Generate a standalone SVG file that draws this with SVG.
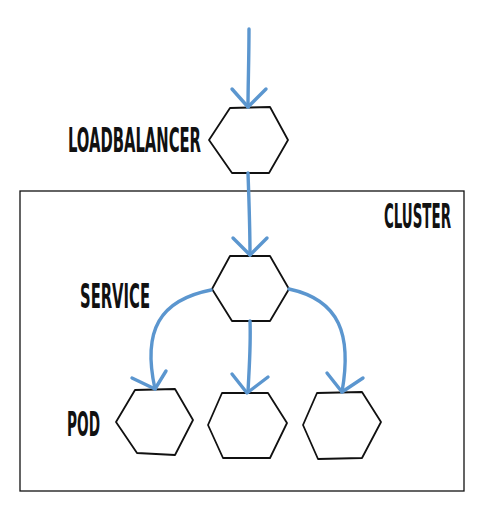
<svg xmlns="http://www.w3.org/2000/svg" width="480" height="508" viewBox="0 0 480 508">
<style>
.hex{fill:#fff;stroke:#111;stroke-width:1.8;stroke-linejoin:round}
.edge{fill:none;stroke:#5b96cf;stroke-width:3.4;stroke-linecap:round;stroke-linejoin:round}
.lbl{font-family:"DejaVu Sans Condensed","Liberation Sans",sans-serif;font-weight:bold;font-size:34px;fill:#111}
</style>
<rect width="480" height="508" fill="#fff"/>
<g id="cluster">
<rect x="20" y="191" width="444" height="300" fill="none" stroke="#111" stroke-width="1.3"/>
<text class="lbl" transform="translate(384,228) scale(0.5,1)" x="0" y="0" textLength="134" lengthAdjust="spacingAndGlyphs">CLUSTER</text>
</g>
<g id="loadbalancer">
<path class="hex" d="M230,108 L270,107 L288,140 L269,173 L232,173 L209,140 Z"/>
<text class="lbl" transform="translate(68,152) scale(0.5,1)" x="0" y="0" textLength="266" lengthAdjust="spacingAndGlyphs">LOADBALANCER</text>
</g>
<g id="service">
<path class="hex" d="M230,256 L270,256 L289,289 L270,321 L232,321 L212,289 Z"/>
<text class="lbl" transform="translate(80,308) scale(0.5,1)" x="0" y="0" textLength="140" lengthAdjust="spacingAndGlyphs">SERVICE</text>
</g>
<g id="pod1">
<path class="hex" d="M135,390 L175,389 L193,420 L175,455 L137,453 L116,422 Z"/>
<text class="lbl" transform="translate(67,436) scale(0.5,1)" x="0" y="0" textLength="66" lengthAdjust="spacingAndGlyphs">POD</text>
</g>
<g id="pod2">
<path class="hex" d="M222,393 L268,393 L287,423 L270,458 L223,458 L208,425 Z"/>
</g>
<g id="pod3">
<path class="hex" d="M317,393 L362,392 L381,422 L362,458 L318,459 L303,425 Z"/>
</g>
<g id="connectors">
<path class="edge" d="M249,29 C249,60 248,85 248,107"/>
<path class="edge" d="M232,89 L248,107 L266,89"/>
<path class="edge" d="M248,173 C249,200 250,230 250,255"/>
<path class="edge" d="M233,238 L250,255 L267,238"/>
<path class="edge" d="M211,290 C160,300 142,330 155,389"/>
<path class="edge" d="M132,378 L155,389 L166,371"/>
<path class="edge" d="M250,321 C251,345 249,370 248,392"/>
<path class="edge" d="M232,374 L247,393 L268,377"/>
<path class="edge" d="M289,289 C340,300 352,335 342,392"/>
<path class="edge" d="M327,373 L342,392 L363,378"/>
</g>
</svg>
